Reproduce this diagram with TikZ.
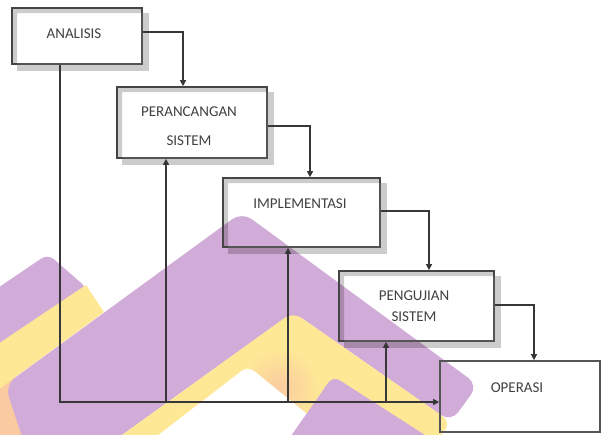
\documentclass[tikz,border=0pt]{standalone}
\usepackage{fontspec}
\setmainfont{Carlito}
\usetikzlibrary{arrows.meta}
\definecolor{wmP}{RGB}{210,172,216}
\definecolor{wmY}{RGB}{254,232,150}
\definecolor{wmO}{RGB}{250,203,160}
\definecolor{boxline}{RGB}{85,85,85}
\definecolor{connline}{RGB}{55,55,55}
\definecolor{txt}{RGB}{65,65,65}
\tikzset{
  box/.style={draw=boxline, line width=1.6pt, inner sep=0pt},
  lbl/.style={text=txt, font=\fontsize{15}{18}\selectfont, inner sep=0pt, text height=9.6pt, text depth=0pt},
  conn/.style={draw=connline, line width=1.2pt, -{Triangle[length=6pt,width=6pt]}},
  shadowc/.style={fill=black, opacity=0.2, even odd rule}
}
\begin{document}
\begin{tikzpicture}[x=1pt,y=-1pt]
\useasboundingbox (0,0) rectangle (602,434);
\fill[white] (0,0) rectangle (602,434);
% watermark
\begin{scope}
\clip (0,0) rectangle (602,434);
\fill[wmO] (-20,378) rectangle (45,460);
\fill[wmP, rounded corners=8pt] (-20,300) -- (48,254) -- (88,289) -- (-20,362) -- cycle;
\fill[wmY] (-20,356) -- (86,285) -- (104,312) -- (-20,403) -- cycle;
\fill[wmP, rounded corners=12pt] (28,455) -- (5,385) -- (242,212) -- (478,385) -- (451,422) -- (293,312) -- (97,453) -- cycle;
\begin{scope}
\clip (97,453) -- (293,312) -- (451,422) -- (433,446) -- cycle;
\fill[wmY, rounded corners=10pt] (97,453) -- (293,312) -- (451,422) -- (433,446) -- cycle;
\shade[inner color=wmO, outer color=wmY] (280,388) circle (40pt);
\end{scope}
\fill[white, rounded corners=8pt] (135,453) -- (248,366) -- (312,418) -- (300,453) -- cycle;
\fill[wmP, rounded corners=8pt] (279,453) -- (333,376) -- (453,453) -- cycle;
\end{scope}
% boxes
\node[box, minimum width=130pt, minimum height=56pt] (ana) at (77,36) {};
\node[box, minimum width=150pt, minimum height=71pt] (per) at (192,122.5) {};
\node[box, minimum width=157pt, minimum height=69pt] (imp) at (301.5,212.5) {};
\node[box, minimum width=155pt, minimum height=70pt] (pen) at (416.5,306) {};
\node[box, minimum width=160pt, minimum height=71pt] (ope) at (520,396.5) {};
% shadows
\foreach \n in {ana,per,imp,pen}{
  \fill[shadowc] ([shift={(6,6)}]\n.south west) rectangle ([shift={(6,6)}]\n.north east)
                 (\n.south west) rectangle (\n.north east);
}
% labels
\node[lbl] (tana) at (74,34) {ANALISIS};
\node[lbl] (tper1) at (189,112) {PERANCANGAN};
\node[lbl] (tper2) at (189,141) {SISTEM};
\node[lbl] (timp) at (300,204) {IMPLEMENTASI};
\node[lbl] (tpen1) at (414,296) {PENGUJIAN};
\node[lbl] (tpen2) at (414,317) {SISTEM};
\node[lbl] (tope) at (517,388) {OPERASI};
% forward connectors
\coordinate (k1) at (183,32);
\coordinate (k2) at (310,126);
\coordinate (k3) at (429,211);
\coordinate (k4) at (534,305);
\draw[conn] (k1 -| ana.east) -- (k1) -- (k1 |- per.north);
\draw[conn] (k2 -| per.east) -- (k2) -- (k2 |- imp.north);
\draw[conn] (k3 -| imp.east) -- (k3) -- (k3 |- pen.north);
\draw[conn] (k4 -| pen.east) -- (k4) -- (k4 |- ope.north);
% feedback connectors
\coordinate (f0) at (60,402);
\coordinate (f1) at (166,402);
\coordinate (f2) at (288,402);
\coordinate (f3) at (386,402);
\draw[conn] (f0 |- ana.south) -- (f0) -- (f0 -| ope.west);
\draw[conn] (f1) -- (f1 |- per.south);
\draw[conn] (f2) -- (f2 |- imp.south);
\draw[conn] (f3) -- (f3 |- pen.south);
\end{tikzpicture}
\end{document}
